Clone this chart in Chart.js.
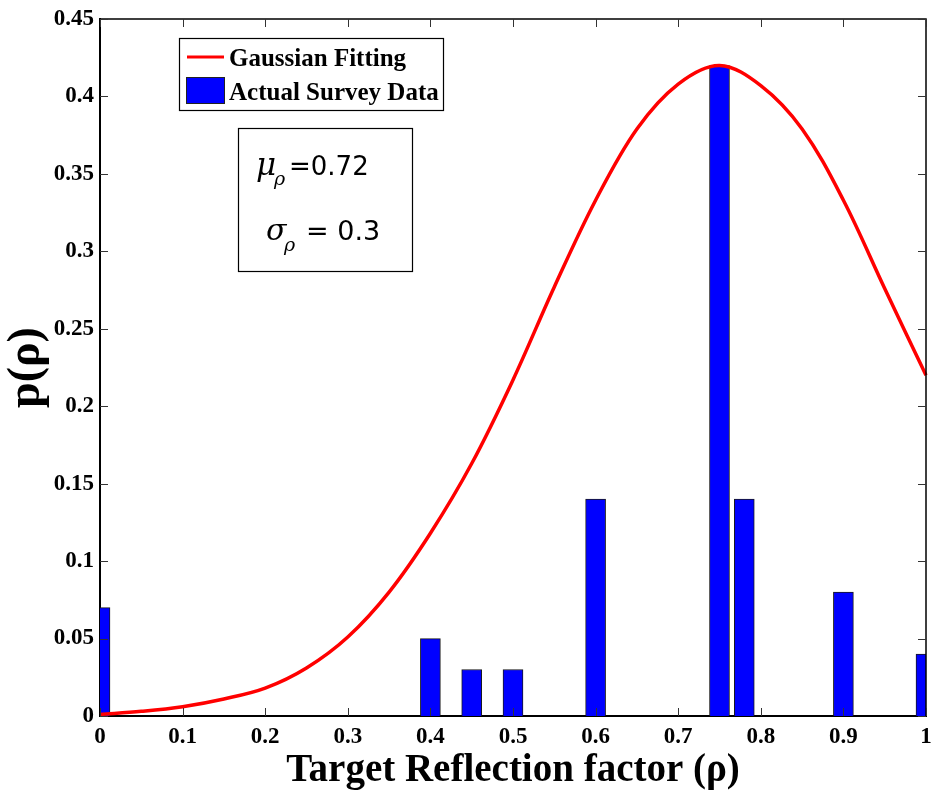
<!DOCTYPE html>
<html>
<head>
<meta charset="utf-8">
<script src="https://cdn.jsdelivr.net/npm/chart.js@4"></script>
<style>
  html, body { margin: 0; padding: 0; background: #fff; }
  #wrap { width: 935px; height: 794px; }
</style>
</head>
<body>
<div id="wrap"><canvas id="grafico" width="935" height="794"></canvas></div>
<script>
// dados
const barX = [0, 0.4, 0.45, 0.5, 0.6, 0.75, 0.78, 0.9, 1.0];
const barY = [0.07, 0.05, 0.03, 0.03, 0.14, 0.42, 0.14, 0.08, 0.04];

const curveX = [0, 0.05, 0.1, 0.15, 0.2, 0.25, 0.3, 0.35, 0.4, 0.45, 0.5,
                0.55, 0.6, 0.65, 0.7, 0.75, 0.8, 0.85, 0.9, 0.95, 1.0];
const curveY = [0.001, 0.003, 0.006, 0.011, 0.018, 0.031, 0.051, 0.080, 0.118, 0.163, 0.217,
                0.277, 0.333, 0.379, 0.408, 0.420, 0.407, 0.379, 0.333, 0.276, 0.220];

const xTickLabels = ['0', '0.1', '0.2', '0.3', '0.4', '0.5', '0.6', '0.7', '0.8', '0.9', '1'];
const yTickLabels = ['0', '0.05', '0.1', '0.15', '0.2', '0.25', '0.3', '0.35', '0.4', '0.45'];

const serifBold = { family: '"Liberation Serif", "Times New Roman", serif', weight: 'bold' };

// caixa, ticks para dentro, legenda e anotação
const extras = {
  id: 'extras',
  afterDraw(chart) {
    const { ctx, chartArea: a, scales } = chart;
    ctx.save();
    ctx.strokeStyle = '#000';
    ctx.lineWidth = 1.5;
    ctx.beginPath();
    ctx.moveTo(a.left, a.top); ctx.lineTo(a.right, a.top); ctx.lineTo(a.right, a.bottom);
    ctx.stroke();

    ctx.strokeStyle = '#333';
    ctx.lineWidth = 1;
    scales.x.ticks.forEach(t => {
      const px = Math.round(scales.x.getPixelForValue(t.value)) + 0.5;
      ctx.beginPath();
      ctx.moveTo(px, a.bottom); ctx.lineTo(px, a.bottom - 8);
      ctx.moveTo(px, a.top); ctx.lineTo(px, a.top + 8);
      ctx.stroke();
    });
    scales.y.ticks.forEach(t => {
      const py = Math.round(scales.y.getPixelForValue(t.value)) + 0.5;
      ctx.beginPath();
      ctx.moveTo(a.left, py); ctx.lineTo(a.left + 8, py);
      ctx.moveTo(a.right, py); ctx.lineTo(a.right - 8, py);
      ctx.stroke();
    });

    // legenda
    ctx.fillStyle = '#fff';
    ctx.fillRect(179, 38, 264, 72);
    ctx.strokeStyle = '#000';
    ctx.lineWidth = 1.2;
    ctx.strokeRect(179.5, 38.5, 264, 72);
    ctx.strokeStyle = '#ff0000';
    ctx.lineWidth = 3;
    ctx.beginPath(); ctx.moveTo(187, 57); ctx.lineTo(224, 57); ctx.stroke();
    ctx.fillStyle = '#0000ff';
    ctx.fillRect(186, 77, 38, 26);
    ctx.strokeStyle = '#222';
    ctx.lineWidth = 1;
    ctx.strokeRect(186.5, 77.5, 38, 26);
    ctx.fillStyle = '#000';
    ctx.font = 'bold 25px "Liberation Serif", serif';
    ctx.textBaseline = 'alphabetic';
    ctx.fillText('Gaussian Fitting', 229, 66);
    ctx.fillText('Actual Survey Data', 229, 100);

    // caixa de anotação
    ctx.fillStyle = '#fff';
    ctx.fillRect(238, 128, 174, 143);
    ctx.strokeStyle = '#000';
    ctx.lineWidth = 1.2;
    ctx.strokeRect(238.5, 128.5, 174, 143);
    ctx.fillStyle = '#000';
    ctx.font = 'italic 31px "DejaVu Serif", serif';
    ctx.fillText('\u03bc', 256, 175);
    ctx.font = 'italic 19px "DejaVu Serif", serif';
    ctx.fillText('\u03c1', 274, 185);
    ctx.font = '26px "DejaVu Sans", sans-serif';
    ctx.fillText('=0.72', 289, 175);

    ctx.font = 'italic 30px "DejaVu Serif", serif';
    ctx.fillText('\u03c3', 266, 240);
    ctx.font = 'italic 19px "DejaVu Serif", serif';
    ctx.fillText('\u03c1', 284, 251);
    ctx.font = '27px "DejaVu Sans", sans-serif';
    ctx.fillText('= 0.3', 306, 240);
    ctx.restore();
  }
};

new Chart(document.getElementById('grafico'), {
  data: {
    datasets: [
      {
        type: 'line',
        label: 'Gaussian Fitting',
        data: curveX.map((x, i) => ({ x, y: curveY[i] })),
        borderColor: '#ff0000',
        borderWidth: 3.5,
        pointRadius: 0,
        tension: 0.35,
        fill: false,
        clip: 3,
        order: 0
      },
      {
        type: 'bar',
        label: 'Actual Survey Data',
        data: barX.map((x, i) => ({ x, y: barY[i] })),
        backgroundColor: '#0000ff',
        borderColor: '#1a1a1a',
        borderWidth: 1,
        barThickness: 20,
        clip: 0,
        order: 1
      }
    ]
  },
  options: {
    responsive: false,
    animation: false,
    layout: { autoPadding: false, padding: { left: 0, top: 19, right: 9, bottom: 0 } },
    plugins: { legend: { display: false }, tooltip: { enabled: false } },
    scales: {
      x: {
        type: 'linear',
        min: 0, max: 1,
        offset: false,
        grid: { display: false, drawTicks: false },
        border: { display: true, color: '#000', width: 2 },
        ticks: {
          stepSize: 0.1,
          padding: 7,
          color: '#000',
          font: { ...serifBold, size: 23 },
          callback: (v, i) => xTickLabels[i]
        },
        title: {
          display: true,
          text: 'Target Reflection factor (\u03c1)',
          color: '#000',
          font: { ...serifBold, size: 39 },
          padding: { top: 0, bottom: 0 }
        },
        afterFit: s => { s.height = 78; s.paddingLeft = 0; s.paddingRight = 0; }
      },
      y: {
        min: 0, max: 0.45,
        grid: { display: false, drawTicks: false },
        border: { display: true, color: '#000', width: 2 },
        ticks: {
          stepSize: 0.05,
          padding: 6,
          color: '#000',
          font: { ...serifBold, size: 23 },
          callback: (v, i) => yTickLabels[i]
        },
        title: {
          display: true,
          text: 'p(\u03c1)',
          color: '#000',
          font: { ...serifBold, size: 46 },
          padding: { top: 0, bottom: 0 }
        },
        afterFit: s => { s.width = 100; s.paddingTop = 0; s.paddingBottom = 0; }
      }
    }
  },
  plugins: [extras]
});
</script>
</body>
</html>
